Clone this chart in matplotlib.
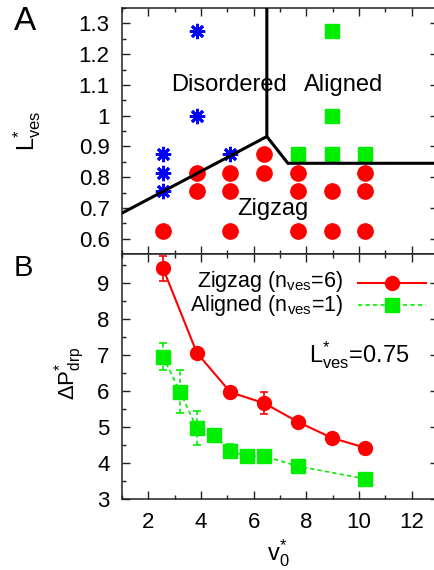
import matplotlib
matplotlib.use("Agg")
from matplotlib import pyplot as plt
from matplotlib.ticker import MultipleLocator, FormatStrFormatter
import numpy as np

plt.rcParams['font.family'] = ['Liberation Sans', 'DejaVu Sans']
plt.rcParams['mathtext.fontset'] = 'custom'
plt.rcParams['mathtext.rm'] = 'Liberation Sans'
plt.rcParams['mathtext.it'] = 'Liberation Sans:italic'
plt.rcParams['mathtext.sf'] = 'Liberation Sans'

RED = '#ff0000'
GREEN = '#00ee00'
BLUE = '#0000ff'

### panel A: phase diagram
v_dis = [2.56, 2.56, 2.56, 3.84, 3.84, 5.12]
L_dis = [0.875, 0.8125, 0.755, 1.275, 1.0, 0.875]

v_zig = [2.56, 3.84, 3.84, 5.12, 5.12, 5.12, 6.4, 6.4,
         7.68, 7.68, 7.68, 8.96, 8.96, 10.24, 10.24, 10.24]
L_zig = [0.625, 0.8125, 0.755, 0.8125, 0.755, 0.625, 0.875, 0.8125,
         0.8125, 0.755, 0.625, 0.755, 0.625, 0.8125, 0.755, 0.625]

v_ali = [8.96, 8.96, 7.68, 8.96, 10.24]
L_ali = [1.275, 1.0, 0.875, 0.875, 0.875]

# phase boundaries
bnd1_v = [1.0, 6.5, 6.5]
bnd1_L = [0.683, 0.932, 1.36]
bnd2_v = [6.5, 7.3, 13.5]
bnd2_L = [0.932, 0.845, 0.845]

### panel B: pressure drop
v_zz = [2.56, 3.84, 5.12, 6.4, 7.68, 8.96, 10.24]
dp_zz = [9.40, 7.06, 5.96, 5.66, 5.14, 4.70, 4.42]
err_zz = [0.35, 0.08, 0.08, 0.31, 0.06, 0.06, 0.05]

v_al = [2.56, 3.2, 3.84, 4.48, 5.12, 5.76, 6.4, 7.68, 10.24]
dp_al = [6.95, 5.98, 4.97, 4.77, 4.33, 4.19, 4.19, 3.91, 3.56]
err_al = [0.37, 0.59, 0.48, 0.08, 0.2, 0.06, 0.06, 0.06, 0.06]

FS = 16

fig = plt.figure(figsize=(4.34, 5.70), dpi=100)
axA = fig.add_axes([122/434, 1-254/570, 316/434, 246/570])
axB = fig.add_axes([122/434, 1-499/570, 316/434, 245/570])

for ax in (axA, axB):
    ax.set_xlim(1, 13)
    ax.xaxis.set_major_locator(MultipleLocator(2))
    ax.xaxis.set_minor_locator(MultipleLocator(1))
    ax.tick_params(which='both', direction='in', top=True, right=True,
                   labelsize=FS, width=1.0, colors='#222222', labelcolor='black')
    ax.tick_params(which='major', length=5.5, pad=9)
    ax.tick_params(which='minor', length=3)
    for s in ax.spines.values():
        s.set_linewidth(1.1)
        s.set_color('#222222')

axA.set_ylim(0.55, 1.35)
axA.yaxis.set_major_locator(MultipleLocator(0.1))
axA.yaxis.set_minor_locator(MultipleLocator(0.05))
axA.yaxis.set_major_formatter(FormatStrFormatter('%g'))
axA.tick_params(labelbottom=False)

axA.plot(v_dis, L_dis, linestyle='none', marker=(8, 2, 0), ms=11, mew=2.0,
         color=BLUE, zorder=3)
axA.plot(v_zig, L_zig, linestyle='none', marker='o', ms=11, color=RED, zorder=3)
axA.plot(v_ali, L_ali, linestyle='none', marker='s', ms=10, color=GREEN, zorder=3)
axA.plot(bnd1_v, bnd1_L, color='black', lw=2.2, zorder=4, solid_joinstyle='miter')
axA.plot(bnd2_v, bnd2_L, color='black', lw=2.2, zorder=4, solid_joinstyle='miter')

axA.text(5.07, 1.1, 'Disordered', fontsize=FS+1, ha='center', va='center')
axA.text(9.4, 1.1, 'Aligned', fontsize=FS+1, ha='center', va='center')
axA.text(6.74, 0.695, 'Zigzag', fontsize=FS+1, ha='center', va='center')

axB.set_ylim(3, 9.8)
axB.yaxis.set_major_locator(MultipleLocator(1))
axB.yaxis.set_minor_locator(MultipleLocator(0.5))

axB.errorbar(v_zz, dp_zz, yerr=err_zz, color=RED, lw=1.5, marker='o', ms=10,
             capsize=3, elinewidth=1.2, capthick=1.2, zorder=3)
eb = axB.errorbar(v_al, dp_al, yerr=err_al, color=GREEN, lw=1.2,
                  linestyle=(0, (2.5, 2)), marker='s', ms=10,
                  capsize=3, elinewidth=1.2, capthick=1.2, zorder=3)
eb[2][0].set_linestyle((0, (2.5, 2)))

# gnuplot style key: right aligned text, sample to the right
axB.text(0.70, 0.886, r'Zigzag (n$_{\mathrm{ves}}$=6)', transform=axB.transAxes,
         fontsize=FS-0.5, ha='right', va='center')
axB.text(0.70, 0.790, r'Aligned (n$_{\mathrm{ves}}$=1)', transform=axB.transAxes,
         fontsize=FS-0.5, ha='right', va='center')
axB.plot([0.747, 0.962], [0.883, 0.883], transform=axB.transAxes, color=RED, lw=1.5)
axB.plot([0.855], [0.883], transform=axB.transAxes, marker='o', ms=10, color=RED)
axB.plot([0.747, 0.962], [0.792, 0.792], transform=axB.transAxes, color=GREEN,
         lw=1.2, linestyle=(0, (2.5, 2)))
axB.plot([0.855], [0.792], transform=axB.transAxes, marker='s', ms=10, color=GREEN)

axB.text(11.9, 6.78, r'L$^{*}_{\mathrm{ves}}$=0.75', fontsize=FS+1, ha='right', va='baseline')

fig.text(27/434, 1-131/570, r'L$^{*}_{\mathrm{ves}}$', fontsize=FS+1, rotation=90,
         ha='center', va='center')
fig.text(70/434, 1-373/570, r'ΔP$^{*}_{\mathrm{drp}}$', fontsize=FS, rotation=90,
         ha='center', va='center')
fig.text(278/434, 1-553/570, r'v$_{0}^{*}$', fontsize=FS+1, ha='center', va='center')

fig.text(25/434, 1-22/570, 'A', fontsize=24, ha='center', va='center')
fig.text(23/434, 1-268/570, 'B', fontsize=21, ha='center', va='center')

plt.savefig('out.png', dpi=100)
